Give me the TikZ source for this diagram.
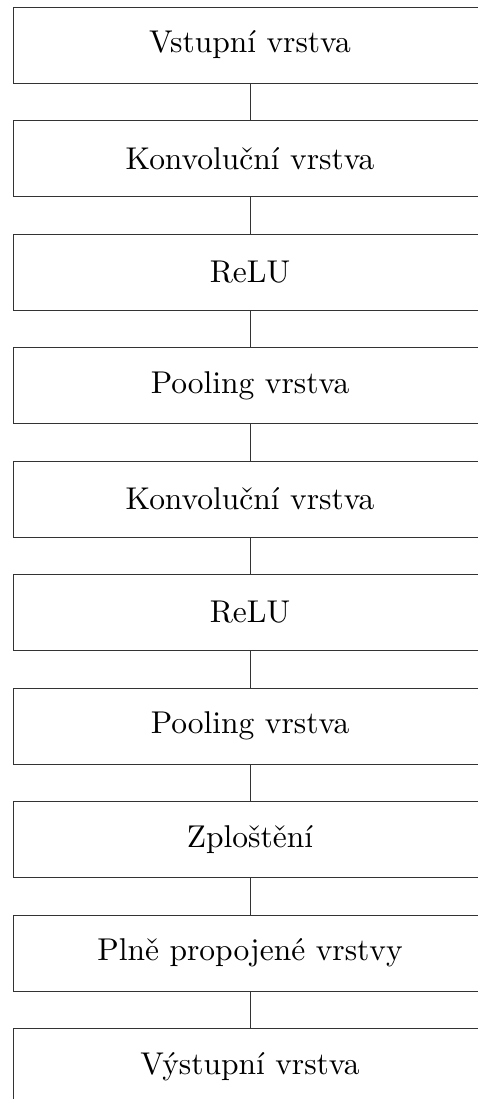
\documentclass[tikz,border=0pt]{standalone}
\newcommand{\layertext}[1]{\scalebox{3.15}{#1}}
\begin{document}
\begin{tikzpicture}[x=1pt,y=-1pt,
  layer/.style={draw=black!80, line width=0.8pt, minimum width=474pt, minimum height=76pt,
    inner sep=0pt},
  link/.style={draw=black!80, line width=0.8pt}]
\useasboundingbox (0,0) rectangle (478,1099);
\clip (0,0) rectangle (478,1099);
\foreach \t [count=\i from 0] in {Vstupní vrstva, Konvoluční vrstva, ReLU, Pooling vrstva,
    Konvoluční vrstva, ReLU, Pooling vrstva, Zploštění, Plně propojené vrstvy, Výstupní vrstva}
  \node[layer] (n\i) at (250,{45+113.5*\i}) {\layertext{\t}};
\foreach \i [evaluate=\i as \j using int(\i+1)] in {0,...,8}
  \draw[link] (n\i.south) -- (n\j.north);
\end{tikzpicture}
\end{document}
